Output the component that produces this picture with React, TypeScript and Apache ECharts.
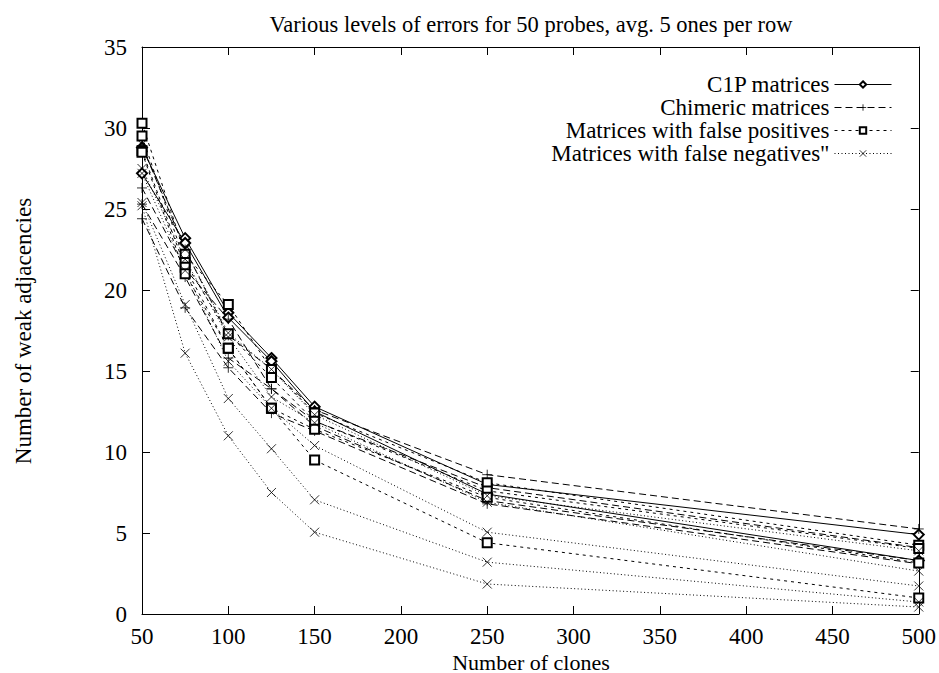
import React, { useEffect, useRef } from "react";
import * as echarts from "echarts";

// ---------- data ----------
const xValues = [50, 75, 100, 125, 150, 250, 500];
const xTicks = [50, 100, 150, 200, 250, 300, 350, 400, 450, 500];
const yTicks = [0, 5, 10, 15, 20, 25, 30, 35];

const legendNames = [
  "C1P matrices",
  "Chimeric matrices",
  "Matrices with false positives",
  'Matrices with false negatives"',
];

// C1P matrices (solid, diamond)
const c1pA = [28.8, 23.2, 18.6, 15.8, 12.8, 8.0, 4.9];
const c1pB = [27.2, 22.9, 18.3, 15.6, 12.5, 7.4, 3.3];

// Chimeric matrices (dashed, plus)
const chimA = [28.9, 22.5, 17.2, 15.1, 12.6, 8.6, 5.25];
const chimB = [26.3, 21.3, 18.2, 13.9, 11.9, 7.8, 4.1];
const chimC = [25.3, 20.8, 15.8, 13.9, 11.6, 7.0, 3.3];
const chimD = [24.4, 18.9, 15.2, 12.4, 11.3, 6.8, 3.1];

// Matrices with false positives (short dashes, square)
const fposA = [30.3, 22.2, 19.1, 15.1, 12.4, 8.1, 4.25];
const fposB = [29.5, 21.7, 17.3, 14.6, 11.9, 7.6, 4.05];
const fposC = [28.6, 21.4, 16.4, 12.7, 11.4, 7.2, 3.15];
const fposD = [28.5, 21.0, 16.4, 12.7, 9.5, 4.4, 0.99];

// Matrices with false negatives (dotted, cross)
const fnegA = [29.0, 22.5, 17.35, 15.1, 12.3, 7.3, 3.9];
const fnegB = [27.5, 21.9, 17.1, 13.4, 11.8, 6.9, 2.65];
const fnegC = [27.2, 21.2, 15.6, 12.7, 10.4, 5.05, 1.73];
const fnegD = [25.4, 19.1, 13.3, 10.2, 7.05, 3.2, 0.74];
const fnegE = [25.2, 16.1, 11.0, 7.5, 5.05, 1.85, 0.43];

const groups = [
  { name: legendNames[0], lines: [c1pA, c1pB] },
  { name: legendNames[1], lines: [chimA, chimB, chimC, chimD] },
  { name: legendNames[2], lines: [fposA, fposB, fposC, fposD] },
  { name: legendNames[3], lines: [fnegA, fnegB, fnegC, fnegD, fnegE] },
];

// ---------- styles ----------
const FONT = "'Liberation Serif', 'Times New Roman', 'DejaVu Serif', serif";
const PLUS = "path://M0,5L10,5M5,0L5,10";
const CROSS = "path://M0,0L10,10M10,0L0,10";
const groupStyles = [
  { symbol: "emptyDiamond", size: 10, dash: "solid" as any },
  { symbol: PLUS, size: 10, dash: [7, 4] as any },
  { symbol: "emptyRect", size: 9, dash: [3, 4] as any },
  { symbol: CROSS, size: 9, dash: [1, 2.5] as any },
];

export default function App() {
  const ref = useRef<HTMLDivElement>(null);

  useEffect(() => {
    if (!ref.current) return;
    const chart = echarts.init(ref.current, undefined, { renderer: "svg" });

    const series: any[] = [];
    groups.forEach((g, gi) => {
      const st = groupStyles[gi];
      g.lines.forEach((vals, li) => {
        series.push({
          type: "line",
          name: li === 0 ? g.name : `${g.name} (${li + 1})`,
          data: xValues.map((x, i) => [x, vals[i]]),
          symbol: st.symbol,
          symbolSize: st.size,
          showAllSymbol: true,
          silent: true,
          lineStyle: { color: "#000", width: 1, type: st.dash },
          itemStyle: { color: "#000", borderColor: "#000", borderWidth: 0.8 },
          emphasis: { disabled: true },
        });
      });
    });

    const axisCommon = {
      axisLine: { show: true, onZero: false, lineStyle: { color: "#000", width: 1 } },
      axisTick: { show: true, inside: true, length: 8, lineStyle: { color: "#000", width: 1 } },
      splitLine: { show: false },
    };

    chart.setOption({
      animation: false,
      backgroundColor: "#fff",
      textStyle: { fontFamily: FONT, color: "#000" },
      grid: { left: 142, right: 19, top: 47, bottom: 59, containLabel: false },
      xAxis: [
        {
          type: "value",
          min: xTicks[0],
          max: xTicks[xTicks.length - 1],
          interval: 50,
          position: "bottom",
          ...axisCommon,
          axisLabel: {
            show: true,
            margin: 12,
            fontSize: 23,
            lineHeight: 20,
            fontFamily: FONT,
            color: "#000",
          },
        },
        {
          type: "value",
          min: xTicks[0],
          max: xTicks[xTicks.length - 1],
          interval: 50,
          position: "top",
          ...axisCommon,
          axisLabel: { show: false },
        },
      ],
      yAxis: [
        {
          type: "value",
          min: yTicks[0],
          max: yTicks[yTicks.length - 1],
          interval: 5,
          position: "left",
          ...axisCommon,
          axisLabel: { show: true, margin: 15, fontSize: 23, fontFamily: FONT, color: "#000" },
        },
        {
          type: "value",
          min: yTicks[0],
          max: yTicks[yTicks.length - 1],
          interval: 5,
          position: "right",
          ...axisCommon,
          axisLabel: { show: false },
        },
      ],
      legend: {
        data: legendNames,
        orient: "vertical",
        right: 42,
        top: 68,
        align: "right",
        itemWidth: 57,
        itemHeight: 8,
        itemGap: 0,
        selectedMode: false,
        itemStyle: { borderWidth: 0.8 },
        lineStyle: { width: 1 },
        textStyle: { fontSize: 23, fontFamily: FONT, color: "#000", lineHeight: 23 },
      },
      graphic: [
        {
          type: "text",
          x: 531,
          y: 24,
          style: {
            text: "Various levels of errors for 50 probes, avg. 5 ones per row",
            fontSize: 22.5,
            fontFamily: FONT,
            fill: "#000",
            textAlign: "center",
            textVerticalAlign: "middle",
          },
        },
        {
          type: "text",
          x: 531,
          y: 662,
          style: {
            text: "Number of clones",
            fontSize: 22,
            lineHeight: 20,
            fontFamily: FONT,
            fill: "#000",
            textAlign: "center",
            textVerticalAlign: "middle",
          },
        },
        {
          type: "text",
          x: 23,
          y: 331,
          rotation: Math.PI / 2,
          style: {
            text: "Number of weak adjacencies",
            fontSize: 23,
            fontFamily: FONT,
            fill: "#000",
            textAlign: "center",
            textVerticalAlign: "middle",
          },
        },
      ],
      series,
    });

    return () => chart.dispose();
  }, []);

  return (
    <div
      ref={ref}
      style={{ position: "absolute", left: 0, top: 0, width: 939, height: 673 }}
    />
  );
}
